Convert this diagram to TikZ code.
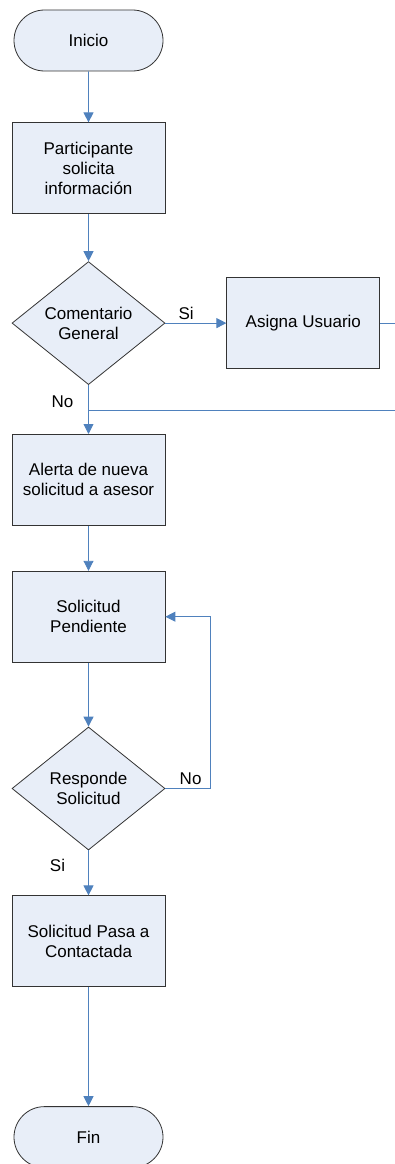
\documentclass[tikz,border=0pt]{standalone}
\usepackage{fontspec}
\setmainfont{Liberation Sans}
\usetikzlibrary{arrows.meta,positioning,calc,shapes.geometric,shapes.misc}
\definecolor{fljblue}{HTML}{4F81BD}
\definecolor{fljfill}{HTML}{E8EEF8}
\definecolor{fljink}{HTML}{333333}
\tikzset{
  flj/.style={font=\fontsize{17pt}{20pt}\selectfont, text=black},
  fljbox/.style={draw=fljink, fill=fljfill, line width=0.8pt, align=center,
    minimum width=153pt, minimum height=91pt, inner sep=2pt},
  fljterm/.style={fljbox, rounded rectangle, minimum height=61pt},
  fljdec/.style={fljbox, diamond, aspect=1.24, minimum width=153pt,
    minimum height=123pt, inner sep=0pt},
  fljarr/.style={-{Triangle[length=10pt,width=10pt]}, line width=0.9pt, draw=fljblue},
  fljline/.style={line width=0.9pt, draw=fljblue},
  fljlbl/.style={align=center, inner sep=3pt},
}
\begin{document}
\begin{tikzpicture}[flj]
  \useasboundingbox (0,0) rectangle (395pt,-1164pt);
  \coordinate (rgt) at (396pt,0);
  \node[fljterm] (ini) at (88.5pt,-40.5pt) {Inicio};
  \node[fljbox, below=51pt of ini] (par) {Participante\\solicita\\información};
  \node[fljdec, below=47pt of par] (com) {Comentario\\General};
  \node[fljbox, right=61pt of com] (asg) {Asigna Usuario};
  \node[fljbox, below=49pt of com] (alr) {Alerta de nueva\\solicitud a asesor};
  \node[fljbox, below=45pt of alr] (pen) {Solicitud\\Pendiente};
  \node[fljdec, below=64pt of pen] (res) {Responde\\Solicitud};
  \node[fljbox, below=45pt of res] (con) {Solicitud Pasa a\\Contactada};
  \node[fljterm, below=119pt of con] (fin) {Fin};
  % connectors
  \draw[fljarr] (ini) -- (par);
  \draw[fljarr] (par) -- (com);
  \draw[fljarr] (com.east) -- node[fljlbl, above, pos=0.34] {Si} (asg.west);
  \draw[fljline] (asg.east) -- (asg.east -| rgt);
  \draw[fljarr] (com.south) -- (alr.north);
  \coordinate (mrg) at ($(com.south)!0.52!(alr.north)$);
  \draw[fljline] (mrg) -- (mrg -| rgt);
  \node[fljlbl] at ([xshift=-26pt,yshift=-17pt]com.south) {No};
  \draw[fljarr] (alr) -- (pen);
  \draw[fljarr] (pen) -- (res);
  \coordinate (lop) at ([xshift=45pt]res.east);
  \draw[fljarr] (res.east) -- node[fljlbl, above, pos=0.56] {No} (lop) |- (pen.east);
  \draw[fljarr] (res.south) -- (con.north);
  \node[fljlbl] at ([xshift=-31pt,yshift=-15pt]res.south) {Si};
  \draw[fljarr] (con) -- (fin);
\end{tikzpicture}
\end{document}
